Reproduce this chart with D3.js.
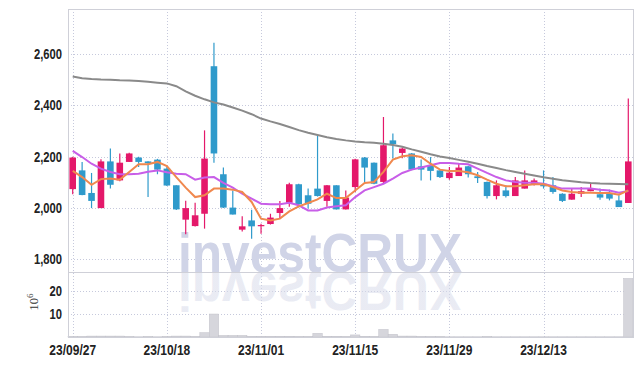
<!DOCTYPE html>
<html>
<head>
<meta charset="utf-8">
<script src="https://cdn.jsdelivr.net/npm/d3@7"></script>
<style>
  body { margin: 0; background: #fff; }
  .axis text { font-family: "Liberation Sans", Arial, sans-serif; font-weight: bold; fill: #222; }
</style>
</head>
<body>
<svg id="chart" width="642" height="366"></svg>
<script>
// trading days shown
var dates = ["2023-09-27","2023-10-04","2023-10-05","2023-10-06","2023-10-10","2023-10-11","2023-10-12","2023-10-13","2023-10-16","2023-10-17",
  "2023-10-18","2023-10-19","2023-10-20","2023-10-23","2023-10-24","2023-10-25","2023-10-26","2023-10-27","2023-10-30","2023-10-31",
  "2023-11-01","2023-11-02","2023-11-03","2023-11-06","2023-11-07","2023-11-08","2023-11-09","2023-11-10","2023-11-13","2023-11-14",
  "2023-11-15","2023-11-16","2023-11-17","2023-11-20","2023-11-21","2023-11-22","2023-11-23","2023-11-24","2023-11-27","2023-11-28",
  "2023-11-29","2023-11-30","2023-12-01","2023-12-04","2023-12-05","2023-12-06","2023-12-07","2023-12-08","2023-12-11","2023-12-12",
  "2023-12-13","2023-12-14","2023-12-15","2023-12-18","2023-12-19","2023-12-20","2023-12-21","2023-12-22","2023-12-26","2023-12-27"];
var tickDates = ["2023-09-27","2023-10-18","2023-11-01","2023-11-15","2023-11-29","2023-12-13"];

var opens  = [2074,2147,2059,2000,2182,2108,2180,2197,2182,2189, 2154,2089,1955,1930,1978,2553,2132,2002,1916,1952,
              1932,1938,1981,2021,2093,2050,2076,2028,2089,1995, 2082,2197,2177,2102,2264,2215,2213,2163,2164,2147,
              2117,2125,2163,2124,2102,2047,2069,2047,2076,2093, 2095,2089,2056,2033,2056,2066,2054,2056,2030,2020];
var highs  = [2200,2180,2137,2190,2232,2213,2216,2200,2183,2192, 2160,2089,2029,2021,2303,2644,2158,2069,1968,1994,
              1939,1978,2028,2099,2095,2076,2284,2090,2089,2069, 2192,2199,2178,2355,2291,2236,2215,2189,2199,2150,
              2160,2173,2165,2141,2104,2108,2089,2121,2147,2115, 2147,2121,2058,2076,2082,2098,2076,2072,2050,2427];
var lows   = [2054,2050,2000,2000,2076,2105,2180,2160,2043,2132, 2086,1993,1898,1928,1920,2177,2000,1975,1909,1881,
              1900,1936,1959,2005,2002,1998,2045,2005,1995,1995, 2063,2102,2093,2095,2193,2194,2148,2108,2108,2117,
              2111,2125,2119,2098,2037,2034,2041,2047,2076,2088, 2076,2056,2024,2033,2043,2066,2033,2030,2004,2020];
var closes = [2197,2051,2028,2182,2091,2177,2213,2180,2175,2150, 2088,1995,2000,1972,2193,2213,2002,1975,1929,1929,
              1934,1963,2000,2093,2015,2017,2047,2089,1995,2041, 2190,2158,2095,2245,2249,2232,2150,2150,2145,2121,
              2138,2158,2132,2117,2047,2089,2047,2108,2108,2108, 2085,2063,2028,2056,2066,2078,2041,2037,2004,2182];
// volume, millions of shares
var volume = [0.15,0.15,0.4,0.4,0.4,0.4,0.15,0.1,0.15,0.1, 0.15,0.4,0.4,0.2,1.9,10.0,0.7,0.7,0.7,0.3,
              0.3,0.3,0.3,0.3,0.2,0.2,1.6,0.3,0.3,0.2, 0.9,0.3,0.2,3.3,1.2,0.4,0.4,0.2,0.15,0.15,
              0.1,0.1,0.1,0.1,0.15,0.1,0.1,0.1,0.1,0.1, 0.1,0.1,0.1,0.1,0.1,0.1,0.1,0.1,0.1,25.5];
// moving averages
var ma5  = [2145,2121,2091,2113,2115,2111,2141,2171,2171,2180, 2164,2121,2080,2043,2050,2076,2076,2072,2063,2024,
            1959,1952,1959,1987,2007,2020,2034,2056,2039,2039, 2069,2098,2102,2141,2189,2202,2206,2199,2173,2150,
            2145,2145,2140,2128,2111,2095,2085,2085,2089,2093, 2093,2082,2069,2063,2060,2060,2059,2059,2052,2069];
var ma20 = [2223,2199,2173,2154,2141,2132,2132,2134,2142,2147, 2140,2134,2132,2111,2119,2121,2098,2080,2056,2037,
            2017,2015,2015,2021,2011,1991,1991,2002,2007,2011, 2043,2069,2082,2095,2115,2137,2150,2158,2167,2176,
            2176,2173,2171,2154,2137,2121,2108,2102,2099,2099, 2095,2085,2076,2076,2076,2076,2072,2069,2060,2067];
var ma60 = [2513,2506,2503,2501,2500,2498,2497,2495,2492,2489, 2486,2475,2455,2438,2424,2412,2404,2392,2380,2366,
            2349,2338,2328,2316,2304,2294,2285,2276,2269,2264, 2260,2257,2255,2251,2246,2239,2229,2220,2210,2201,
            2195,2188,2181,2173,2164,2156,2148,2141,2134,2127, 2120,2114,2109,2105,2101,2098,2096,2095,2094,2093];

var priceTicks = [1800, 2000, 2200, 2400, 2600];
var volumeTicks = [10, 20];

var svg = d3.select("#chart"),
    pLeft = 68, pRight = 633, pTop = 9, pMid = 272, pBottom = 337;

var parse = d3.timeParse("%Y-%m-%d"),
    fmt = d3.timeFormat("%y/%m/%d");

var x = d3.scaleBand().domain(dates).range([pLeft, pRight]).paddingInner(0.3).paddingOuter(0.15);
var cx = function(i) { return x(dates[i]) + x.bandwidth() / 2; };

var y = d3.scaleLinear().domain([1751, 2776]).range([pMid, pTop]);
var yv = d3.scaleLinear().domain([0, 28.3]).range([pBottom, pMid]);

var up = "#e4186a", down = "#2f9acb", gridColor = "#c6c9dc";

svg.append("rect").attr("width", 642).attr("height", 366).attr("fill", "#fff");

// grid lines
var grid = svg.append("g").attr("stroke", gridColor).attr("stroke-dasharray", "1,2");
grid.selectAll(".hp").data(priceTicks).enter().append("line")
    .attr("x1", pLeft).attr("x2", pRight)
    .attr("y1", function(d) { return Math.round(y(d)) + 0.5; }).attr("y2", function(d) { return Math.round(y(d)) + 0.5; });
grid.selectAll(".hv").data(volumeTicks).enter().append("line")
    .attr("x1", pLeft).attr("x2", pRight)
    .attr("y1", function(d) { return Math.round(yv(d)) + 0.5; }).attr("y2", function(d) { return Math.round(yv(d)) + 0.5; });
grid.selectAll(".vx").data(tickDates).enter().append("line")
    .attr("x1", function(d) { return Math.round(x(d) + x.bandwidth() / 2) + 0.5; })
    .attr("x2", function(d) { return Math.round(x(d) + x.bandwidth() / 2) + 0.5; })
    .attr("y1", pTop).attr("y2", pBottom);

// watermark and its reflection
var defs = svg.append("defs");
var grad = defs.append("linearGradient").attr("id", "fade")
    .attr("gradientUnits", "userSpaceOnUse").attr("x1", 0).attr("y1", pMid).attr("x2", 0).attr("y2", pMid + 45);
grad.append("stop").attr("offset", "0").attr("stop-color", "#d8dbea").attr("stop-opacity", 0.55);
grad.append("stop").attr("offset", "1").attr("stop-color", "#d8dbea").attr("stop-opacity", 0.08);

var mark = svg.append("g").style("font-family", "'Liberation Sans', Arial, sans-serif").style("font-weight", "bold");
mark.append("text").attr("x", 178).attr("y", pMid).attr("font-size", 55)
    .attr("textLength", 284).attr("lengthAdjust", "spacingAndGlyphs")
    .attr("fill", "#d0d4e7").text("investCRUX");
mark.append("text").attr("x", 178).attr("y", pMid).attr("font-size", 55)
    .attr("transform", "translate(0," + (2 * pMid) + ") scale(1,-1)")
    .attr("textLength", 284).attr("lengthAdjust", "spacingAndGlyphs")
    .attr("fill", "url(#fade)").text("investCRUX");

// volume bars
svg.append("g").selectAll("rect").data(d3.range(dates.length)).enter().append("rect")
    .attr("x", function(i) { return x(dates[i]) - x.step() * 0.15; })
    .attr("width", x.step())
    .attr("y", function(i) { return yv(volume[i]); })
    .attr("height", function(i) { return pBottom - yv(volume[i]); })
    .attr("fill", "#d6d6dc").attr("stroke", "#c2c2ca").attr("stroke-width", 0.5);

// candles
var isUp = function(i) { return closes[i] >= opens[i]; };
var candle = svg.append("g").selectAll("g").data(d3.range(dates.length)).enter().append("g")
    .attr("fill", function(i) { return isUp(i) ? up : down; })
    .attr("stroke", function(i) { return isUp(i) ? up : down; });
candle.append("line")
    .attr("x1", cx).attr("x2", cx)
    .attr("y1", function(i) { return y(highs[i]); })
    .attr("y2", function(i) { return y(lows[i]); })
    .attr("stroke-width", 1.2);
candle.append("rect")
    .attr("stroke", "none")
    .attr("x", function(i) { return x(dates[i]); })
    .attr("width", x.bandwidth())
    .attr("y", function(i) { return y(Math.max(opens[i], closes[i])); })
    .attr("height", function(i) { return Math.max(1.2, Math.abs(y(opens[i]) - y(closes[i]))); });

// moving averages
var line = d3.line().x(function(d, i) { return cx(i); }).y(function(d) { return y(d); });
svg.append("path").datum(ma60).attr("d", line).attr("fill", "none").attr("stroke", "#8a8a8a").attr("stroke-width", 2);
svg.append("path").datum(ma20).attr("d", line).attr("fill", "none").attr("stroke", "#c85ee8").attr("stroke-width", 2);
svg.append("path").datum(ma5).attr("d", line).attr("fill", "none").attr("stroke", "#f0884e").attr("stroke-width", 2);

// frame
var frame = svg.append("g").attr("stroke", "#cfd0d8").attr("fill", "none");
frame.append("rect").attr("x", pLeft + 0.5).attr("y", pTop + 0.5).attr("width", pRight - pLeft).attr("height", pBottom - pTop);
frame.append("line").attr("x1", pLeft).attr("x2", pRight).attr("y1", pMid + 0.5).attr("y2", pMid + 0.5);

// squeeze label glyphs to look like the narrow face of the original
function narrow(g, k) {
  g.selectAll("text").each(function() {
    var w = this.getComputedTextLength();
    d3.select(this).attr("textLength", w * k).attr("lengthAdjust", "spacingAndGlyphs");
  });
}

// axes
svg.append("g").attr("class", "axis").attr("transform", "translate(" + pLeft + ",0)")
    .call(d3.axisLeft(y).tickValues(priceTicks).tickSize(0).tickPadding(6).tickFormat(d3.format(",")))
    .call(function(g) { g.select(".domain").remove(); g.selectAll("text").attr("font-size", 14); narrow(g, 0.8); });

svg.append("g").attr("class", "axis").attr("transform", "translate(" + pLeft + ",0)")
    .call(d3.axisLeft(yv).tickValues(volumeTicks).tickSize(0).tickPadding(6))
    .call(function(g) { g.select(".domain").remove(); g.selectAll("text").attr("font-size", 14); narrow(g, 0.8); });

svg.append("g").attr("class", "axis").attr("transform", "translate(0," + pBottom + ")")
    .call(d3.axisBottom(x).tickValues(tickDates).tickSize(0).tickFormat(function(d) { return fmt(parse(d)); }))
    .call(function(g) {
      g.select(".domain").remove();
      g.selectAll("text").attr("font-size", 15).attr("dy", null).attr("y", 17.5);
      narrow(g, 0.8);
    });

// volume unit label
var unit = svg.append("text").attr("transform", "translate(37.5,302) rotate(-90)")
    .attr("text-anchor", "middle")
    .style("font-family", "'Liberation Serif', 'DejaVu Serif', serif")
    .attr("font-size", 12.5).attr("fill", "#333");
unit.append("tspan").text("10");
unit.append("tspan").attr("font-size", 9).attr("dy", -5).text("6");
</script>
</body>
</html>
